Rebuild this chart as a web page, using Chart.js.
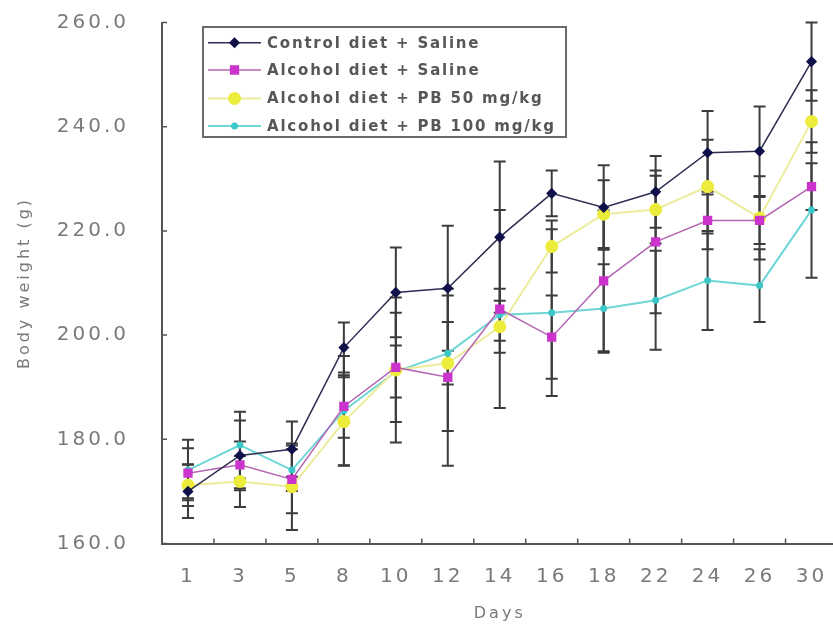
<!DOCTYPE html>
<html>
<head>
<meta charset="utf-8">
<script src="https://cdn.jsdelivr.net/npm/chart.js@4/dist/chart.umd.min.js"></script>
<style>
  html, body { margin: 0; padding: 0; background: #ffffff; overflow: hidden; width: 833px; height: 626px; }
  #wrap { position: relative; width: 833px; height: 626px; overflow: hidden; }
  canvas { display: block; }
</style>
</head>
<body>
<div id="wrap"><canvas id="c" width="845" height="626"></canvas></div>
<script>
// ---- data ----
const days = ['1', '3', '5', '8', '10', '12', '14', '16', '18', '22', '24', '26', '30'];
const seriesNames = ['Control diet + Saline', 'Alcohol diet + Saline', 'Alcohol diet + PB 50 mg/kg', 'Alcohol diet + PB 100 mg/kg'];

const controlSaline = [170.0, 176.9, 178.1, 197.6, 208.2, 209.0, 218.8, 227.2, 224.5, 227.5, 235.0, 235.3, 252.5];
const alcoholSaline = [173.5, 175.1, 172.3, 186.3, 193.8, 191.9, 205.0, 199.6, 210.4, 217.9, 222.0, 222.0, 228.5];
const alcoholPB50   = [171.2, 171.9, 170.9, 183.4, 193.3, 194.6, 201.6, 217.0, 223.2, 224.1, 228.5, 222.5, 241.0];
const alcoholPB100  = [174.1, 178.9, 174.1, 185.5, 193.0, 196.5, 203.9, 204.3, 205.1, 206.7, 210.5, 209.5, 224.0];

const controlSalineSD = [5.1, 6.7, 5.3, 4.8, 8.6, 12.0, 14.5, 4.4, 8.1, 6.9, 8.0, 8.6, 7.5];
const alcoholSalineSD = [4.8, 4.5, 6.5, 6.0, 10.5, 17.0, 19.0, 8.0, 13.5, 13.7, 5.5, 4.5, 4.5];
const alcoholPB50SD   = [4.0, 4.9, 8.3, 8.5, 13.9, 13.0, 5.0, 5.0, 6.5, 6.5, 9.0, 8.0, 6.0];
const alcoholPB100SD  = [5.8, 6.4, 4.0, 10.5, 5.0, 6.0, 5.0, 16.0, 8.5, 9.5, 9.5, 7.0, 13.0];

const yTicks = [160, 180, 200, 220, 240, 260];

// ---- plugins ----
const spacingPlugin = {
  id: 'spacing',
  beforeUpdate(chart) { chart.ctx.letterSpacing = '3px'; },
  beforeLayout(chart) { chart.ctx.letterSpacing = '3px'; },
  beforeDraw(chart) { chart.ctx.letterSpacing = '3px'; }
};

const errorBarPlugin = {
  id: 'errorBars',
  beforeDatasetsDraw(chart) {
    const ctx = chart.ctx;
    const xs = chart.scales.x, ys = chart.scales.y;
    ctx.save();
    ctx.strokeStyle = '#3c3c3c';
    ctx.lineWidth = 2;
    chart.data.datasets.forEach((ds) => {
      ds.data.forEach((v, j) => {
        const sd = ds.sd[j];
        const x = xs.getPixelForValue(j);
        const yt = ys.getPixelForValue(v + sd);
        const yb = ys.getPixelForValue(v - sd);
        ctx.beginPath();
        ctx.moveTo(x, yt); ctx.lineTo(x, yb);
        ctx.moveTo(x - 6, yt); ctx.lineTo(x + 6, yt);
        ctx.moveTo(x - 6, yb); ctx.lineTo(x + 6, yb);
        ctx.stroke();
      });
    });
    ctx.restore();
  }
};

const innerTicksPlugin = {
  id: 'innerTicks',
  afterDraw(chart) {
    const ctx = chart.ctx;
    const xs = chart.scales.x, ys = chart.scales.y;
    const area = chart.chartArea;
    ctx.save();
    ctx.strokeStyle = '#555555';
    ctx.lineWidth = 1.5;
    ctx.beginPath();
    yTicks.forEach((t) => {
      const y = ys.getPixelForValue(t);
      ctx.moveTo(area.left, y); ctx.lineTo(area.left + 5, y);
    });
    const half = (xs.getPixelForValue(1) - xs.getPixelForValue(0)) / 2;
    for (let i = 1; i < days.length; i++) {
      const x = xs.getPixelForValue(i) - half;
      ctx.moveTo(x, area.bottom); ctx.lineTo(x, area.bottom - 5);
    }
    ctx.stroke();
    ctx.restore();
  }
};

const boxLegendPlugin = {
  id: 'boxLegend',
  afterDraw(chart) {
    const ctx = chart.ctx;
    ctx.save();
    const bx = 203, by = 27, bw = 363, bh = 110;
    ctx.fillStyle = '#ffffff';
    ctx.fillRect(bx, by, bw, bh);
    ctx.strokeStyle = '#6a6a6a';
    ctx.lineWidth = 2;
    ctx.strokeRect(bx, by, bw, bh);
    const rows = [42.7, 70, 98.5, 126];
    chart.data.datasets.forEach((ds, i) => {
      const y = rows[i];
      ctx.strokeStyle = ds.borderColor;
      ctx.lineWidth = ds.borderWidth;
      ctx.beginPath();
      ctx.moveTo(208, y); ctx.lineTo(261, y);
      ctx.stroke();
      ctx.fillStyle = ds.pointBackgroundColor;
      ctx.strokeStyle = ds.pointBorderColor;
      Chart.helpers.drawPoint(ctx, { pointStyle: ds.pointStyle, radius: ds.pointRadius, borderWidth: 1, rotation: 0 }, 234.5, y);
      ctx.letterSpacing = '1.8px';
      ctx.font = 'bold 15px "DejaVu Sans"';
      ctx.fillStyle = '#575757';
      ctx.textBaseline = 'middle';
      ctx.textAlign = 'left';
      ctx.fillText(ds.label, 267, y + 1);
    });
    ctx.restore();
  }
};

// ---- chart ----
const ctx = document.getElementById('c').getContext('2d');
new Chart(ctx, {
  type: 'line',
  data: {
    labels: days,
    datasets: [
      {
        label: seriesNames[0], data: controlSaline, sd: controlSalineSD,
        borderColor: '#2e2e52', borderWidth: 1.5,
        pointStyle: 'rectRot', pointRadius: 4.5,
        pointBackgroundColor: '#10104a', pointBorderColor: '#10104a'
      },
      {
        label: seriesNames[1], data: alcoholSaline, sd: alcoholSalineSD,
        borderColor: '#b466b4', borderWidth: 1.5,
        pointStyle: 'rect', pointRadius: 5.5,
        pointBackgroundColor: '#cc33cc', pointBorderColor: '#cc33cc'
      },
      {
        label: seriesNames[2], data: alcoholPB50, sd: alcoholPB50SD,
        borderColor: '#ecec9c', borderWidth: 2,
        pointStyle: 'circle', pointRadius: 5.5,
        pointBackgroundColor: '#ecec3c', pointBorderColor: '#ecec3c'
      },
      {
        label: seriesNames[3], data: alcoholPB100, sd: alcoholPB100SD,
        borderColor: '#6ed6d6', borderWidth: 2,
        pointStyle: 'circle', pointRadius: 2.5,
        pointBackgroundColor: '#3cc8c8', pointBorderColor: '#3cc8c8'
      }
    ]
  },
  options: {
    responsive: false,
    animation: false,
    devicePixelRatio: 1,
    layout: { padding: { top: 22.5, right: 6, left: 0, bottom: 0 } },
    plugins: { legend: { display: false }, tooltip: { enabled: false } },
    elements: { line: { tension: 0 } },
    scales: {
      x: {
        type: 'category',
        offset: true,
        grid: { display: false, offset: true, drawTicks: false },
        border: { display: true, color: '#555555', width: 2 },
        ticks: { color: '#7a7a7a', font: { family: 'DejaVu Sans', size: 20 }, padding: 21, maxRotation: 0, autoSkip: false },
        title: { display: true, text: 'Days', color: '#7a7a7a', font: { family: 'DejaVu Sans', size: 16 }, padding: { top: 0, bottom: 3 } },
        afterFit(s) { s.height = 82.5; s.paddingLeft = 0; s.paddingRight = 0; }
      },
      y: {
        min: 160, max: 260,
        grid: { display: false, drawTicks: false },
        border: { display: true, color: '#555555', width: 2 },
        ticks: {
          stepSize: 20, color: '#7a7a7a', font: { family: 'DejaVu Sans', size: 20 }, padding: 33,
          callback: (v) => Number(v).toFixed(1)
        },
        title: { display: true, text: 'Body weight (g)', color: '#7a7a7a', font: { family: 'DejaVu Sans', size: 16 }, padding: { top: 15, bottom: 0 } },
        afterFit(s) { s.width = 162; s.paddingTop = 0; s.paddingBottom = 0; }
      }
    }
  },
  plugins: [spacingPlugin, errorBarPlugin, innerTicksPlugin, boxLegendPlugin]
});
</script>
</body>
</html>
